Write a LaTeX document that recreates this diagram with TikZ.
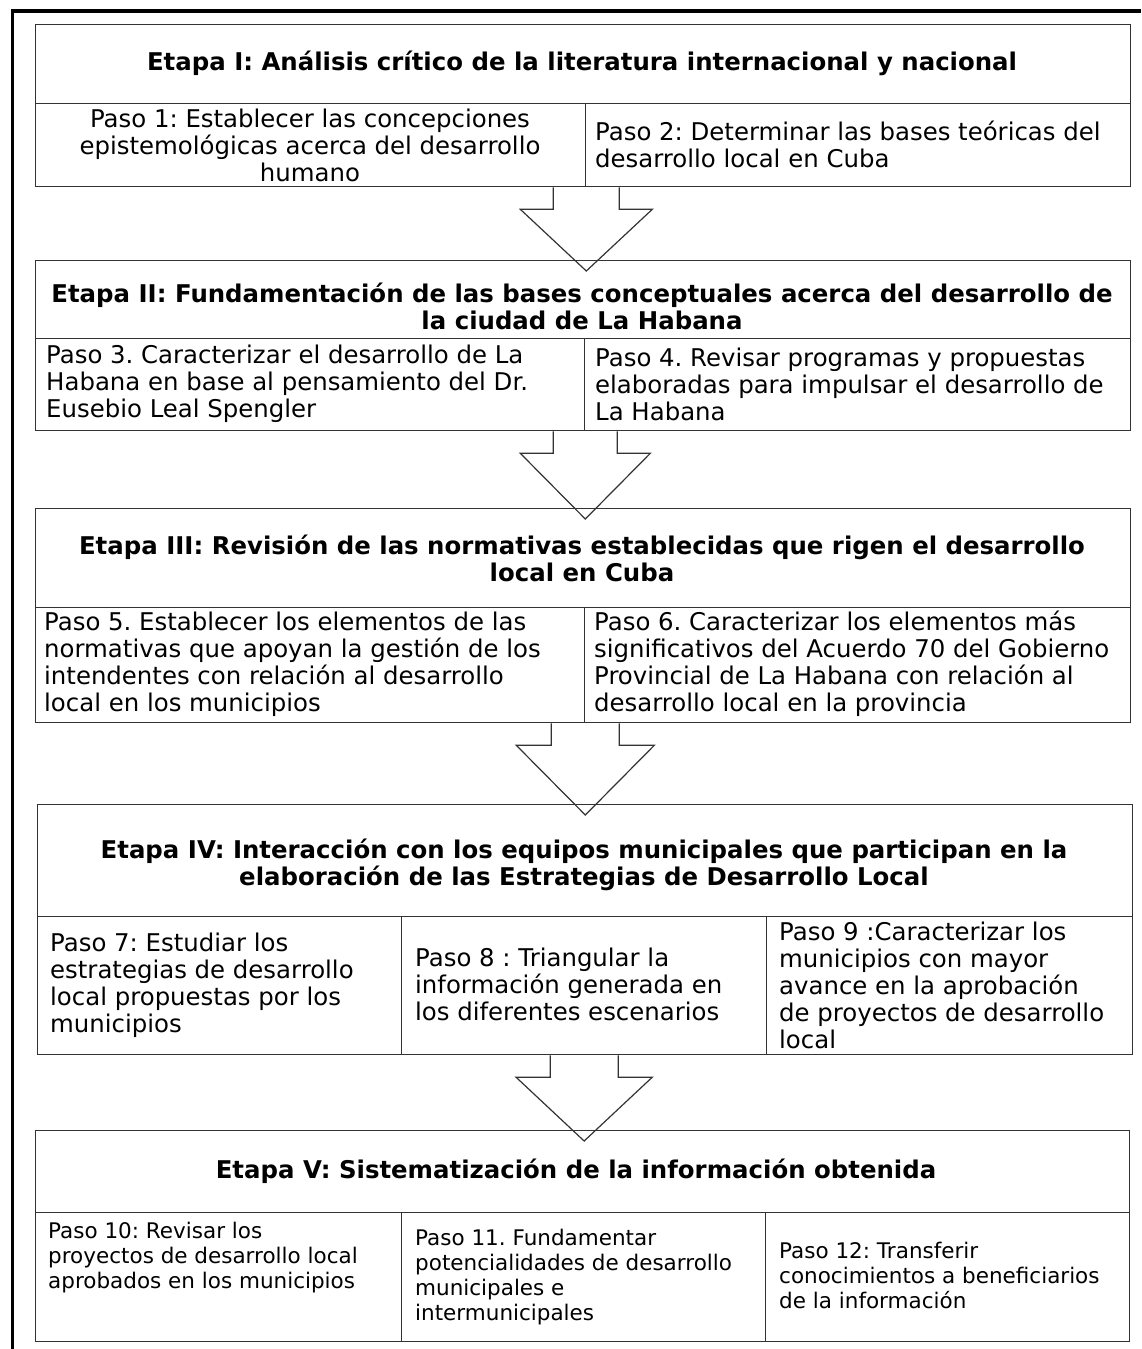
\documentclass[tikz,border=0pt]{standalone}
\usepackage{fontspec}
\setmainfont{DejaVu Sans}
\usetikzlibrary{calc}
\frenchspacing
\definecolor{linec}{HTML}{333333}
\tikzset{
  cell/.style={draw=linec, line width=1.3pt, inner sep=0pt, anchor=north west},
  hdrtext/.style={inner sep=0pt, align=center, font=\fontsize{24.4}{27}\selectfont\bfseries},
  ptext/.style={inner sep=0pt, align=left, anchor=west, font=\fontsize{24.4}{27}\selectfont},
  ptextc/.style={inner sep=0pt, align=center, font=\fontsize{24.4}{27}\selectfont},
  ptextv/.style={inner sep=0pt, align=left, anchor=west, font=\fontsize{21.5}{25}\selectfont},
  barrow/.style={draw=linec, line width=1.2pt, line join=miter},
  frameline/.style={line width=3.5pt, draw=black, line join=miter},
}
\newcommand{\blockarrow}[4]{%
  \draw[barrow] ($(#1)+(-#3,0)$) -- ($(#1)+(-#3,22)$) -- ($(#1)+(-#4,22)$)
    -- ($(#2.north -| #1)+(0,11)$) -- ($(#1)+(#4,22)$) -- ($(#1)+(#3,22)$) -- ($(#1)+(#3,0)$);}
\begin{document}
\begin{tikzpicture}[x=1pt,y=-1pt]
\useasboundingbox (0,0) rectangle (1141,1349);
% outer frame
\draw[frameline] (12.5,1349) -- (12.5,11) -- (1141,11);

% Stage I
\node[cell, minimum width=1095pt, minimum height=79pt] (e1) at (35,24) {};
\node[cell, minimum width=550pt, minimum height=83pt] (p1) at (35,103) {};
\node[cell, minimum width=545pt, minimum height=83pt] (p2) at (585,103) {};
\node[hdrtext] (h1) at (582,63) {Etapa I: Análisis crítico de la literatura internacional y nacional};
\node[ptextc] (t1) at (310,145) {Paso 1: Establecer las concepciones\\epistemológicas acerca del desarrollo\\humano};
\node[ptext] (t2) at (595,144) {Paso 2: Determinar las bases teóricas del\\desarrollo local en Cuba};

% Stage II
\node[cell, minimum width=1095pt, minimum height=78pt] (e2) at (35,260) {};
\node[cell, minimum width=549pt, minimum height=92pt] (p3) at (35,338) {};
\node[cell, minimum width=546pt, minimum height=92pt] (p4) at (584,338) {};
\node[hdrtext] (h2) at (582,306) {Etapa II: Fundamentación de las bases conceptuales acerca del desarrollo de\\la ciudad de La Habana};
\node[ptext] (t3) at (46,384) {Paso 3. Caracterizar el desarrollo de La\\Habana en base al pensamiento del Dr.\\Eusebio Leal Spengler};
\node[ptext] (t4) at (595,384) {Paso 4. Revisar programas y propuestas\\elaboradas para impulsar el desarrollo de\\La Habana};

% Stage III
\node[cell, minimum width=1095pt, minimum height=99pt] (e3) at (35,508) {};
\node[cell, minimum width=549pt, minimum height=115pt] (p5) at (35,607) {};
\node[cell, minimum width=546pt, minimum height=115pt] (p6) at (584,607) {};
\node[hdrtext] (h3) at (582,558) {Etapa III: Revisión de las normativas establecidas que rigen el desarrollo\\local en Cuba};
\node[ptext] (t5) at (44,664) {Paso 5. Establecer los elementos de las\\normativas que apoyan la gestión de los\\intendentes con relación al desarrollo\\local en los municipios};
\node[ptext] (t6) at (594,664) {Paso 6. Caracterizar los elementos más\\significativos del Acuerdo 70 del Gobierno\\Provincial de La Habana con relación al\\desarrollo local en la provincia};

% Stage IV
\node[cell, minimum width=1095pt, minimum height=112pt] (e4) at (37,804) {};
\node[cell, minimum width=364pt, minimum height=138pt] (p7) at (37,916) {};
\node[cell, minimum width=365pt, minimum height=138pt] (p8) at (401,916) {};
\node[cell, minimum width=366pt, minimum height=138pt] (p9) at (766,916) {};
\node[hdrtext] (h4) at (584,865) {Etapa IV: Interacción con los equipos municipales que participan en la\\elaboración de las Estrategias de Desarrollo Local};
\node[ptext] (t7) at (50,985) {Paso 7: Estudiar los\\estrategias de desarrollo\\local propuestas por los\\municipios};
\node[ptext] (t8) at (415,984) {Paso 8 : Triangular la\\información generada en\\los diferentes escenarios};
\node[ptext] (t9) at (779,985) {Paso 9 :Caracterizar los\\municipios con mayor\\avance en la aprobación\\de proyectos de desarrollo\\local};

% Stage V
\node[cell, minimum width=1094pt, minimum height=82pt] (e5) at (35,1130) {};
\node[cell, minimum width=366pt, minimum height=129pt] (p10) at (35,1212) {};
\node[cell, minimum width=364pt, minimum height=129pt] (p11) at (401,1212) {};
\node[cell, minimum width=364pt, minimum height=129pt] (p12) at (765,1212) {};
\node[hdrtext] (h5) at (576,1171) {Etapa V: Sistematización de la información obtenida};
\node[ptextv] (t10) at (48,1258) {Paso 10: Revisar los\\proyectos de desarrollo local\\aprobados en los municipios};
\node[ptextv] (t11) at (415,1277) {Paso 11. Fundamentar\\potencialidades de desarrollo\\municipales e\\intermunicipales};
\node[ptextv] (t12) at (779,1275) {Paso 12: Transferir\\conocimientos a beneficiarios\\de la información};

% block arrows
\blockarrow{p1.south east}{e2}{33}{66}
\blockarrow{p3.south east}{e3}{32}{65}
\blockarrow{p5.south east}{e4}{34}{69}
\blockarrow{p8.south}{e5}{34}{68}
\end{tikzpicture}
\end{document}
